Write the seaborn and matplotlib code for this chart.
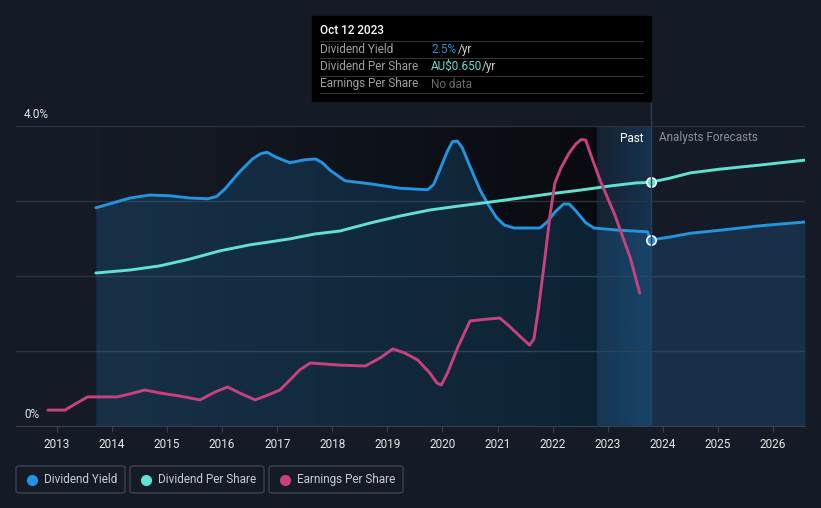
import numpy as np
import pandas as pd
import seaborn as sb
import matplotlib.pyplot as plt
from matplotlib.patches import FancyBboxPatch, Rectangle
from matplotlib.lines import Line2D

# dividend yield (%) - past and forecast
yield_years = [2013.71, 2014.0, 2014.33, 2014.69, 2015.05, 2015.41, 2015.74, 2015.9, 2016.05, 2016.32,
               2016.55, 2016.7, 2016.82, 2016.96, 2017.23, 2017.5, 2017.7, 2017.82, 2017.96, 2018.23,
               2018.68, 2019.23, 2019.73, 2019.84, 2019.95, 2020.08, 2020.18, 2020.27, 2020.36, 2020.5,
               2020.68, 2020.85, 2020.98, 2021.12, 2021.3, 2021.77, 2021.9, 2022.05, 2022.2, 2022.3,
               2022.42, 2022.6, 2022.75, 2023.21, 2023.72, 2023.78]
yield_vals = [2.91, 2.97, 3.04, 3.08, 3.07, 3.04, 3.03, 3.06, 3.16, 3.39,
              3.56, 3.63, 3.65, 3.59, 3.51, 3.55, 3.56, 3.51, 3.41, 3.27,
              3.23, 3.17, 3.15, 3.22, 3.41, 3.65, 3.79, 3.80, 3.71, 3.46,
              3.15, 2.93, 2.78, 2.68, 2.64, 2.64, 2.72, 2.86, 2.96, 2.96,
              2.87, 2.71, 2.64, 2.61, 2.59, 2.48]
yield_fc_years = [2023.78, 2024.13, 2024.5, 2025.04, 2025.77, 2026.58]
yield_fc_vals = [2.48, 2.52, 2.57, 2.61, 2.67, 2.72]

# dividend per share (AU$)
dps_years = [2013.71, 2014.33, 2014.87, 2015.41, 2015.96, 2016.5, 2016.87, 2017.23, 2017.68, 2018.14,
             2018.68, 2019.23, 2019.77, 2020.32, 2020.86, 2021.41, 2021.95, 2022.5, 2023.04, 2023.5, 2023.78]
dps_vals = [0.408, 0.416, 0.427, 0.445, 0.467, 0.483, 0.491, 0.499, 0.512, 0.520,
            0.541, 0.560, 0.576, 0.587, 0.597, 0.608, 0.619, 0.629, 0.640, 0.648, 0.650]
dps_fc_years = [2023.78, 2024.13, 2024.5, 2025.04, 2025.77, 2026.58]
dps_fc_vals = [0.650, 0.661, 0.675, 0.685, 0.696, 0.709]

# earnings per share (AU$)
eps_years = [2012.84, 2013.15, 2013.33, 2013.56, 2014.1, 2014.33, 2014.6, 2014.87, 2015.23, 2015.6,
             2015.87, 2016.1, 2016.32, 2016.6, 2016.83, 2017.05, 2017.23, 2017.41, 2017.6, 2018.14,
             2018.6, 2018.87, 2019.1, 2019.32, 2019.55, 2019.77, 2019.9, 2019.98, 2020.1, 2020.28,
             2020.5, 2020.74, 2021.04, 2021.2, 2021.4, 2021.58, 2021.66, 2021.75, 2021.86, 2021.95,
             2022.04, 2022.15, 2022.3, 2022.42, 2022.52, 2022.6, 2022.7, 2022.86, 2023.13, 2023.41, 2023.58]
eps_vals = [0.053, 0.053, 0.073, 0.097, 0.097, 0.107, 0.120, 0.110, 0.100, 0.087,
            0.113, 0.130, 0.110, 0.087, 0.103, 0.120, 0.153, 0.187, 0.210, 0.203,
            0.200, 0.227, 0.257, 0.243, 0.220, 0.177, 0.143, 0.137, 0.180, 0.263,
            0.350, 0.355, 0.360, 0.335, 0.300, 0.270, 0.290, 0.400, 0.560, 0.700,
            0.810, 0.860, 0.910, 0.940, 0.955, 0.953, 0.900, 0.820, 0.703, 0.560, 0.443]

years = list(range(2013, 2027))
legend_labels = ["Dividend Yield", "Dividend Per Share", "Earnings Per Share"]

BG = "#151b26"
BLUE = "#2394e0"
TEAL = "#62e1d0"
PINK = "#c8417f"
NOW = 2023.78
X0, X1 = 2012.26, 2026.58

W, H = 821, 508


def fx(px):
    return px / W


def fy(py):
    return 1 - py / H


sb.set_style("dark")
plt.rcParams["font.family"] = ["Roboto", "DejaVu Sans"]

fig = plt.figure(figsize=(W / 100, H / 100), dpi=100, facecolor=BG)
ax = fig.add_axes([fx(16), fy(426), fx(805 - 16), (426 - 126) / H])
ax.set_facecolor(BG)
ax.set_xlim(X0, X1)
ax.set_ylim(0, 4)

# darkening toward the present in the past part
grad = np.linspace(0, 1, 256).reshape(1, -1)
cmap_dark = np.zeros((1, 256, 4))
cmap_dark[..., 3] = grad * 0.6
ax.imshow(cmap_dark, extent=[2013.71, 2022.8, 0, 4], aspect="auto", zorder=0.5, interpolation="bilinear")

# highlighted last year band
band = np.zeros((1, 256, 4))
band[..., 0] = 0.09
band[..., 1] = 0.25
band[..., 2] = 0.40
band[..., 3] = 0.2 + grad * 0.45
ax.imshow(band, extent=[2022.8, NOW, 0, 4], aspect="auto", zorder=0.6, interpolation="bilinear")

for v in [1, 2, 3, 4]:
    ax.axhline(v, color="#2d333e", lw=1, zorder=1)

all_yx = yield_years + yield_fc_years[1:]
all_yv = yield_vals + yield_fc_vals[1:]
ax.fill_between(all_yx, 0, all_yv, color=BLUE, alpha=0.18, lw=0, zorder=1.5)

line_kw = dict(lw=2.1, zorder=4, solid_joinstyle="round", solid_capstyle="round")
sb.lineplot(x=yield_years, y=yield_vals, ax=ax, color=BLUE, **line_kw)
sb.lineplot(x=yield_fc_years, y=yield_fc_vals, ax=ax, color=BLUE, **line_kw)

ax2 = ax.twinx()
ax2.set_ylim(0, 0.8)
sb.lineplot(x=dps_years, y=dps_vals, ax=ax2, color=TEAL, **line_kw)
sb.lineplot(x=dps_fc_years, y=dps_fc_vals, ax=ax2, color=TEAL, **line_kw)

ax3 = ax.twinx()
ax3.set_ylim(0, 1.0)
sb.lineplot(x=eps_years, y=eps_vals, ax=ax3, color=PINK, **line_kw)

ax.scatter([NOW], [yield_fc_vals[0]], s=45, color=BLUE, edgecolor="white", lw=1.2, zorder=6, clip_on=False)
ax2.scatter([NOW], [dps_fc_vals[0]], s=45, color=TEAL, edgecolor="white", lw=1.2, zorder=6, clip_on=False)

for a in (ax, ax2, ax3):
    a.set_xlim(X0, X1)
    a.set_ylabel("")
    a.set_xlabel("")
    a.grid(False)
    for s in a.spines.values():
        s.set_visible(False)
    a.tick_params(left=False, right=False, labelleft=False, labelright=False)
    a.patch.set_alpha(0)
ax.set_facecolor(BG)
ax.patch.set_alpha(1)

ax.spines["bottom"].set_visible(True)
ax.spines["bottom"].set_color("#3a404b")
ax.set_xticks(years)
ax.set_xticklabels([str(y) for y in years])
ax.tick_params(axis="x", bottom=True, length=4, color="#3a404b", labelcolor="#e6e6e6",
               labelsize=8.5, pad=5)
ax2.tick_params(bottom=False, labelbottom=False)
ax3.tick_params(bottom=False, labelbottom=False)

# y labels
fig.text(fx(24), fy(114), "4.0%", color="#e6e6e6", fontsize=8.5, va="center")
fig.text(fx(24), fy(414), "0%", color="#e6e6e6", fontsize=8.5, va="center")

# now line
fig.add_artist(Line2D([fx(651), fx(651)], [fy(101), fy(426)], color="#2b3d50", lw=1, zorder=3))

fig.text(fx(643), fy(138), "Past", color="white", fontsize=8.5, ha="right", va="center")
fig.text(fx(659), fy(138), "Analysts Forecasts", color="#8a9099", fontsize=8.5, ha="left", va="center")

# tooltip
fig.add_artist(Rectangle((fx(312), fy(101)), fx(651 - 312), (101 - 16) / H, color="black", zorder=5))
for ly in [41, 58, 76, 93]:
    fig.add_artist(Line2D([fx(320), fx(643)], [fy(ly), fy(ly)], color="#333333", lw=0.8, zorder=6))
fig.text(fx(320), fy(31), "Oct 12 2023", color="white", fontsize=8.5, fontweight="medium",
         va="center", zorder=7)
rows = [49.5, 66.5, 84]
for ly, lab in zip(rows, legend_labels):
    fig.text(fx(320), fy(ly), lab, color="#a0a0a0", fontsize=8.5, va="center", zorder=7)
fig.text(fx(431), fy(rows[0]), "2.5%", color=BLUE, fontsize=8.5, va="center", zorder=7)
fig.text(fx(458), fy(rows[0]), "/yr", color="#d0d0d0", fontsize=8.5, va="center", zorder=7)
fig.text(fx(431), fy(rows[1]), "AU$0.650", color=TEAL, fontsize=8.5, va="center", zorder=7)
fig.text(fx(482), fy(rows[1]), "/yr", color="#d0d0d0", fontsize=8.5, va="center", zorder=7)
fig.text(fx(431), fy(rows[2]), "No data", color="#6a6a6a", fontsize=8.5, va="center", zorder=7)

# legend boxes
boxes = [(16, 125), (130, 264), (269, 403)]
for (bx0, bx1), lab, col in zip(boxes, legend_labels, [BLUE, TEAL, PINK]):
    fig.add_artist(FancyBboxPatch((fx(bx0), fy(493)), fx(bx1 - bx0), 27 / H,
                                  boxstyle="round,pad=0,rounding_size=0.004",
                                  fc="none", ec="#3d434d", lw=1))
    fig.add_artist(Line2D([fx(bx0 + 16)], [fy(479.5)], marker="o", ms=7, color=col, lw=0))
    fig.text(fx(bx0 + 28), fy(479.5), lab, color="#c8ccd2", fontsize=8.5, va="center")

fig.savefig("out.png", dpi=100, facecolor=BG)
